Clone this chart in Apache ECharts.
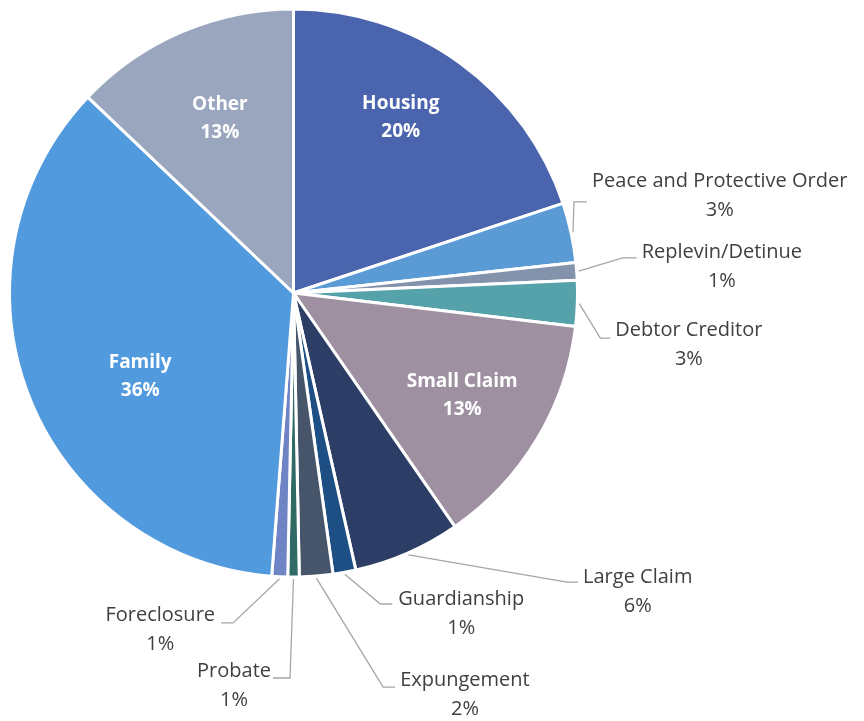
<!DOCTYPE html>
<html>
<head>
<meta charset="utf-8">
<script src="https://cdn.jsdelivr.net/npm/echarts@6/dist/echarts.min.js"></script>
<style>
  html, body { margin: 0; padding: 0; background: #ffffff; }
  #chart { width: 864px; height: 721px; }
</style>
</head>
<body>
<div id="chart"></div>
<script>
// Case types and their share of the caseload (percent)
const categories = [
  'Housing', 'Peace and Protective Order', 'Replevin/Detinue', 'Debtor Creditor',
  'Small Claim', 'Large Claim', 'Guardianship', 'Expungement', 'Probate',
  'Foreclosure', 'Family', 'Other'
];
const shares = [19.9, 3.4, 1.0, 2.6, 13.5, 6.1, 1.3, 1.9, 0.65, 0.9, 35.9, 12.9];
const sliceColors = [
  '#4A65AE', '#5A9BD5', '#8493AC', '#56A2AA', '#9E8FA1', '#2D3E66',
  '#1E4F84', '#465569', '#2F6A65', '#6F84C4', '#529ADE', '#9AA6BE'
];
// Slices whose label sits inside the pie
const insideNames = ['Housing', 'Small Claim', 'Family', 'Other'];

// Pie geometry
const CX = 293.5, CY = 293, R = 284, R_EDGE = 283;

const total = shares.reduce((a, b) => a + b, 0);
const pct = v => Math.round(v / total * 100) + '%';

// Point on the rim at the middle of slice i (angles clockwise from 12 o'clock)
function rimPoint(i, rad) {
  let before = 0;
  for (let k = 0; k < i; k++) before += shares[k];
  const mid = (before + shares[i] / 2) / total * 2 * Math.PI;
  return [CX + rad * Math.sin(mid), CY - rad * Math.cos(mid)];
}

// Callout leader shapes for outside labels: bend offset from the rim point,
// horizontal end offset, text gap and vertical text shift
const callouts = {
  'Peace and Protective Order': { bend: [4, -31], end: 17, gap: 5, dy: -6 },
  'Replevin/Detinue':           { bend: [47, -13.5], end: 61, gap: 5, dy: 8.5 },
  'Debtor Creditor':            { bend: [24, 34.6], end: 34, gap: 5, dy: 7 },
  'Large Claim':                { bend: [160, 30], end: 171, gap: 5, dy: 10 },
  'Guardianship':               { bend: [36, 32.6], end: 48, gap: 6, dy: 10 },
  'Expungement':                { bend: [67, 112], end: 79, gap: 5, dy: 8 },
  'Probate':                    { bend: [-3.5, 102], end: -20.5, gap: 2, dy: 8 },
  'Foreclosure':                { bend: [-46.7, 47.3], end: -58.7, gap: 6, dy: 7 }
};

// Fine shifts for the labels drawn inside the slices
const insideShift = {
  'Housing': [-8, -15.7],
  'Small Claim': [0, 0.5],
  'Family': [30.6, 12.5],
  'Other': [4, 7]
};

const FONT = '"Open Sans", Lato, sans-serif';

const mainData = categories.map((name, i) => ({
  name: name,
  value: shares[i],
  itemStyle: { color: sliceColors[i] },
  label: { show: insideNames.indexOf(name) < 0 },
  labelLine: { show: insideNames.indexOf(name) < 0 }
}));

const overlayData = categories.map((name, i) => ({
  name: name,
  value: shares[i],
  label: { show: insideNames.indexOf(name) >= 0 }
}));

const chart = echarts.init(document.getElementById('chart'), null, { renderer: 'canvas' });

chart.setOption({
  animation: false,
  backgroundColor: '#ffffff',
  series: [
    {
      type: 'pie',
      center: [CX, CY],
      radius: [0, R],
      startAngle: 90,
      clockwise: true,
      avoidLabelOverlap: false,
      silent: true,
      itemStyle: { borderColor: '#ffffff', borderWidth: 3 },
      label: {
        position: 'outside',
        formatter: p => p.name + '\n' + pct(p.value),
        color: '#404040',
        fontFamily: FONT,
        fontSize: 20,
        lineHeight: 29,
        align: 'center'
      },
      labelLine: {
        show: true,
        length: 20,
        length2: 10,
        lineStyle: { color: '#A6A6A6', width: 1.3 }
      },
      labelLayout: function (p) {
        const name = categories[p.dataIndex];
        const c = callouts[name];
        if (!c) return {};
        const a = rimPoint(p.dataIndex, R_EDGE);
        const s = rimPoint(p.dataIndex, R_EDGE + 3);
        const bx = a[0] + c.bend[0];
        const by = a[1] + c.bend[1];
        const ex = a[0] + c.end;
        const side = c.end >= 0 ? 1 : -1;
        const w = p.labelRect.width;
        return {
          x: ex + side * (c.gap + w / 2),
          y: by + c.dy,
          align: 'center',
          verticalAlign: 'middle',
          labelLinePoints: [s, [bx, by], [ex, by]]
        };
      },
      data: mainData
    },
    {
      // transparent ring carrying the in-slice labels
      type: 'pie',
      center: [CX, CY],
      radius: [105, R_EDGE],
      startAngle: 90,
      clockwise: true,
      silent: true,
      avoidLabelOverlap: false,
      itemStyle: { color: 'rgba(0,0,0,0)', borderWidth: 0 },
      label: {
        position: 'inside',
        formatter: p => p.name + '\n' + pct(p.value),
        color: '#ffffff',
        fontFamily: FONT,
        fontWeight: 'bold',
        fontSize: 19,
        lineHeight: 28,
        align: 'center'
      },
      labelLine: { show: false },
      labelLayout: function (p) {
        const sh = insideShift[categories[p.dataIndex]];
        return sh ? { dx: sh[0], dy: sh[1] } : {};
      },
      data: overlayData
    }
  ]
});
</script>
</body>
</html>
